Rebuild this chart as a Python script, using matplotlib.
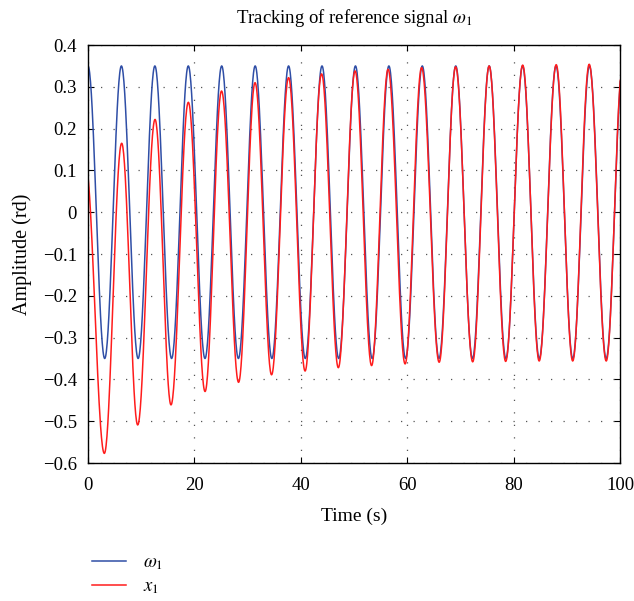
import numpy as np
import matplotlib
matplotlib.use("Agg")
import matplotlib.pyplot as plt

plt.rcParams["font.family"] = ["Liberation Serif", "DejaVu Serif"]
plt.rcParams["mathtext.fontset"] = "stix"
plt.rcParams["axes.unicode_minus"] = True

# Extrema of the reference signal w1 (time s, amplitude rd)
w1_t = [0.0, 3.14, 6.28, 9.42, 12.57, 15.71, 18.85, 21.99, 25.13, 28.27,
        31.42, 34.56, 37.70, 40.84, 43.98, 47.12, 50.27, 53.41, 56.55, 59.69,
        62.83, 65.97, 69.12, 72.26, 75.40, 78.54, 81.68, 84.82, 87.96, 91.11,
        94.25, 97.39, 100.53]
w1_v = [0.35, -0.35, 0.35, -0.35, 0.35, -0.35, 0.35, -0.35, 0.35, -0.35,
        0.35, -0.35, 0.35, -0.35, 0.35, -0.35, 0.35, -0.35, 0.35, -0.35,
        0.35, -0.35, 0.35, -0.35, 0.35, -0.35, 0.35, -0.35, 0.35, -0.35,
        0.35, -0.35, 0.35]

# Extrema of the state x1 (first point sits just before t=0)
x1_t = [-0.5, 3.07, 6.33, 9.34, 12.6, 15.6, 18.86, 22.0, 25.1, 28.3,
        31.4, 34.5, 37.7, 40.8, 43.9, 47.05, 50.2, 53.3, 56.4, 59.6,
        62.7, 66.0, 69.1, 72.3, 75.4, 78.5, 81.7, 84.8, 88.0, 91.1,
        94.2, 97.4, 100.5]
x1_v = [0.12, -0.577, 0.165, -0.509, 0.222, -0.461, 0.263, -0.429, 0.290, -0.407,
        0.310, -0.389, 0.322, -0.380, 0.331, -0.372, 0.338, -0.367, 0.342, -0.363,
        0.346, -0.359, 0.348, -0.358, 0.350, -0.357, 0.352, -0.356, 0.353, -0.356,
        0.354, -0.356, 0.354]


def through_extrema(ts, vs, n=40):
    """Join successive extrema with smooth half-cosine arcs."""
    tt, yy = [], []
    for (t0, v0), (t1, v1) in zip(zip(ts[:-1], vs[:-1]), zip(ts[1:], vs[1:])):
        s = np.linspace(0, 1, n, endpoint=False)
        tt.append(t0 + (t1 - t0) * s)
        yy.append(v0 + (v1 - v0) * (1 - np.cos(np.pi * s)) / 2)
    tt.append([ts[-1]])
    yy.append([vs[-1]])
    return np.concatenate(tt), np.concatenate(yy)


fig = plt.figure(figsize=(6.34, 6.01), dpi=100)
ax = fig.add_axes([0.1388, 0.2296, 0.8392, 0.6955])

t, y = through_extrema(w1_t, w1_v)
ax.plot(t, y, color="#2f4ea6", lw=1.1, label=r"$\omega_1$")
t, y = through_extrema(x1_t, x1_v)
ax.plot(t, y, color="#ff1c1c", lw=1.1, label=r"$x_1$")

ax.set_xlim(0, 100)
ax.set_ylim(-0.6, 0.4)
ax.set_xticks([0, 20, 40, 60, 80, 100])
ax.set_yticks(np.round(np.arange(-0.6, 0.41, 0.1), 1))
ax.set_yticklabels(["\u22120.6", "\u22120.5", "\u22120.4", "\u22120.3", "\u22120.2",
                    "\u22120.1", "0", "0.1", "0.2", "0.3", "0.4"])
ax.tick_params(direction="in", top=True, right=True, length=4, width=0.8,
               labelsize=13.5)
ax.tick_params(axis="x", pad=10)
ax.tick_params(axis="y", pad=8)
ax.grid(True, color="#555555", lw=0.9, linestyle=(0, (1, 9)))
for sp in ax.spines.values():
    sp.set_linewidth(1.0)

ax.set_xlabel("Time (s)", fontsize=14, labelpad=10)
ax.set_ylabel("Amplitude (rd)", fontsize=14.5, labelpad=8)
ax.set_title(r"Tracking of reference signal $\omega_1$", fontsize=13.5, pad=16)

fig.legend(loc="upper left", bbox_to_anchor=(0.125, 0.1), frameon=False,
           fontsize=13.5, handlelength=1.8, handletextpad=0.9, labelspacing=0.35,
           borderpad=0.2)

fig.savefig("out.png", dpi=100)
